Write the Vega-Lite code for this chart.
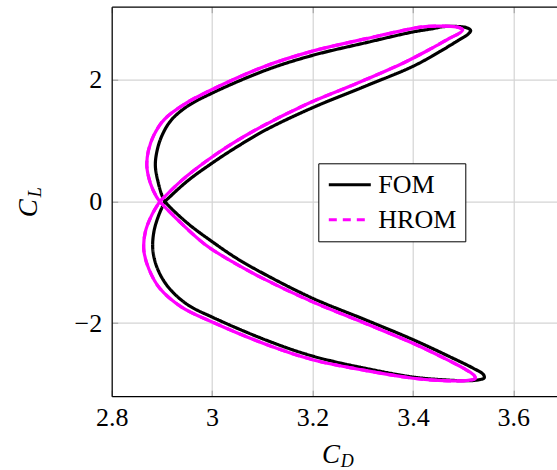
{
  "$schema": "https://vega.github.io/schema/vega-lite/v6.json",
  "width": 445.3,
  "height": 389.5,
  "autosize": {"type": "none"},
  "padding": {"left": 111.7, "top": 6.7, "right": 0, "bottom": 73.8},
  "background": "white",
  "config": {"view": {"stroke": null}, "font": "Liberation Serif"},
  "datasets": {
    "curves": [
      {"series": "FOM", "i": 0, "CD": 2.906, "CL": 0.0},
      {"series": "FOM", "i": 1, "CD": 2.95, "CL": 0.33},
      {"series": "FOM", "i": 2, "CD": 3.0, "CL": 0.63},
      {"series": "FOM", "i": 3, "CD": 3.05, "CL": 0.9},
      {"series": "FOM", "i": 4, "CD": 3.108, "CL": 1.18},
      {"series": "FOM", "i": 5, "CD": 3.2, "CL": 1.54},
      {"series": "FOM", "i": 6, "CD": 3.307, "CL": 1.9},
      {"series": "FOM", "i": 7, "CD": 3.4, "CL": 2.22},
      {"series": "FOM", "i": 8, "CD": 3.453, "CL": 2.46},
      {"series": "FOM", "i": 9, "CD": 3.493, "CL": 2.66},
      {"series": "FOM", "i": 10, "CD": 3.51, "CL": 2.75},
      {"series": "FOM", "i": 11, "CD": 3.515, "CL": 2.81},
      {"series": "FOM", "i": 12, "CD": 3.507, "CL": 2.855},
      {"series": "FOM", "i": 13, "CD": 3.488, "CL": 2.875},
      {"series": "FOM", "i": 14, "CD": 3.46, "CL": 2.872},
      {"series": "FOM", "i": 15, "CD": 3.44, "CL": 2.84},
      {"series": "FOM", "i": 16, "CD": 3.4, "CL": 2.785},
      {"series": "FOM", "i": 17, "CD": 3.307, "CL": 2.61},
      {"series": "FOM", "i": 18, "CD": 3.2, "CL": 2.4},
      {"series": "FOM", "i": 19, "CD": 3.108, "CL": 2.16},
      {"series": "FOM", "i": 20, "CD": 3.0, "CL": 1.78},
      {"series": "FOM", "i": 21, "CD": 2.95, "CL": 1.56},
      {"series": "FOM", "i": 22, "CD": 2.918, "CL": 1.33},
      {"series": "FOM", "i": 23, "CD": 2.9, "CL": 1.08},
      {"series": "FOM", "i": 24, "CD": 2.89, "CL": 0.82},
      {"series": "FOM", "i": 25, "CD": 2.887, "CL": 0.58},
      {"series": "FOM", "i": 26, "CD": 2.893, "CL": 0.3},
      {"series": "FOM", "i": 27, "CD": 2.901, "CL": 0.08},
      {"series": "FOM", "i": 28, "CD": 2.906, "CL": 0.0},
      {"series": "FOM", "i": 29, "CD": 2.95, "CL": -0.35},
      {"series": "FOM", "i": 30, "CD": 3.0, "CL": -0.66},
      {"series": "FOM", "i": 31, "CD": 3.05, "CL": -0.94},
      {"series": "FOM", "i": 32, "CD": 3.108, "CL": -1.21},
      {"series": "FOM", "i": 33, "CD": 3.2, "CL": -1.59},
      {"series": "FOM", "i": 34, "CD": 3.307, "CL": -1.95},
      {"series": "FOM", "i": 35, "CD": 3.4, "CL": -2.27},
      {"series": "FOM", "i": 36, "CD": 3.473, "CL": -2.55},
      {"series": "FOM", "i": 37, "CD": 3.52, "CL": -2.74},
      {"series": "FOM", "i": 38, "CD": 3.54, "CL": -2.84},
      {"series": "FOM", "i": 39, "CD": 3.542, "CL": -2.9},
      {"series": "FOM", "i": 40, "CD": 3.528, "CL": -2.935},
      {"series": "FOM", "i": 41, "CD": 3.5, "CL": -2.945},
      {"series": "FOM", "i": 42, "CD": 3.46, "CL": -2.93},
      {"series": "FOM", "i": 43, "CD": 3.4, "CL": -2.885},
      {"series": "FOM", "i": 44, "CD": 3.307, "CL": -2.745},
      {"series": "FOM", "i": 45, "CD": 3.2, "CL": -2.54},
      {"series": "FOM", "i": 46, "CD": 3.108, "CL": -2.28},
      {"series": "FOM", "i": 47, "CD": 3.0, "CL": -1.9},
      {"series": "FOM", "i": 48, "CD": 2.95, "CL": -1.69},
      {"series": "FOM", "i": 49, "CD": 2.912, "CL": -1.4},
      {"series": "FOM", "i": 50, "CD": 2.891, "CL": -1.1},
      {"series": "FOM", "i": 51, "CD": 2.882, "CL": -0.8},
      {"series": "FOM", "i": 52, "CD": 2.884, "CL": -0.5},
      {"series": "FOM", "i": 53, "CD": 2.894, "CL": -0.22},
      {"series": "FOM", "i": 54, "CD": 2.906, "CL": 0.0},
      {"series": "HROM", "i": 0, "CD": 2.896, "CL": 0.0},
      {"series": "HROM", "i": 1, "CD": 2.94, "CL": 0.35},
      {"series": "HROM", "i": 2, "CD": 2.988, "CL": 0.66},
      {"series": "HROM", "i": 3, "CD": 3.036, "CL": 0.93},
      {"series": "HROM", "i": 4, "CD": 3.094, "CL": 1.21},
      {"series": "HROM", "i": 5, "CD": 3.186, "CL": 1.59},
      {"series": "HROM", "i": 6, "CD": 3.291, "CL": 1.95},
      {"series": "HROM", "i": 7, "CD": 3.382, "CL": 2.28},
      {"series": "HROM", "i": 8, "CD": 3.436, "CL": 2.51},
      {"series": "HROM", "i": 9, "CD": 3.475, "CL": 2.69},
      {"series": "HROM", "i": 10, "CD": 3.494, "CL": 2.77},
      {"series": "HROM", "i": 11, "CD": 3.499, "CL": 2.82},
      {"series": "HROM", "i": 12, "CD": 3.493, "CL": 2.855},
      {"series": "HROM", "i": 13, "CD": 3.475, "CL": 2.878},
      {"series": "HROM", "i": 14, "CD": 3.445, "CL": 2.88},
      {"series": "HROM", "i": 15, "CD": 3.42, "CL": 2.87},
      {"series": "HROM", "i": 16, "CD": 3.4, "CL": 2.845},
      {"series": "HROM", "i": 17, "CD": 3.307, "CL": 2.675},
      {"series": "HROM", "i": 18, "CD": 3.2, "CL": 2.47},
      {"series": "HROM", "i": 19, "CD": 3.108, "CL": 2.23},
      {"series": "HROM", "i": 20, "CD": 3.0, "CL": 1.84},
      {"series": "HROM", "i": 21, "CD": 2.945, "CL": 1.6},
      {"series": "HROM", "i": 22, "CD": 2.905, "CL": 1.35},
      {"series": "HROM", "i": 23, "CD": 2.884, "CL": 1.09},
      {"series": "HROM", "i": 24, "CD": 2.873, "CL": 0.83},
      {"series": "HROM", "i": 25, "CD": 2.87, "CL": 0.58},
      {"series": "HROM", "i": 26, "CD": 2.877, "CL": 0.3},
      {"series": "HROM", "i": 27, "CD": 2.889, "CL": 0.08},
      {"series": "HROM", "i": 28, "CD": 2.896, "CL": 0.0},
      {"series": "HROM", "i": 29, "CD": 2.94, "CL": -0.37},
      {"series": "HROM", "i": 30, "CD": 2.988, "CL": -0.72},
      {"series": "HROM", "i": 31, "CD": 3.04, "CL": -0.99},
      {"series": "HROM", "i": 32, "CD": 3.1, "CL": -1.26},
      {"series": "HROM", "i": 33, "CD": 3.2, "CL": -1.65},
      {"series": "HROM", "i": 34, "CD": 3.307, "CL": -2.01},
      {"series": "HROM", "i": 35, "CD": 3.4, "CL": -2.33},
      {"series": "HROM", "i": 36, "CD": 3.473, "CL": -2.62},
      {"series": "HROM", "i": 37, "CD": 3.507, "CL": -2.77},
      {"series": "HROM", "i": 38, "CD": 3.522, "CL": -2.86},
      {"series": "HROM", "i": 39, "CD": 3.524, "CL": -2.91},
      {"series": "HROM", "i": 40, "CD": 3.51, "CL": -2.94},
      {"series": "HROM", "i": 41, "CD": 3.48, "CL": -2.948},
      {"series": "HROM", "i": 42, "CD": 3.44, "CL": -2.935},
      {"series": "HROM", "i": 43, "CD": 3.4, "CL": -2.905},
      {"series": "HROM", "i": 44, "CD": 3.307, "CL": -2.78},
      {"series": "HROM", "i": 45, "CD": 3.2, "CL": -2.6},
      {"series": "HROM", "i": 46, "CD": 3.108, "CL": -2.35},
      {"series": "HROM", "i": 47, "CD": 3.0, "CL": -1.98},
      {"series": "HROM", "i": 48, "CD": 2.94, "CL": -1.74},
      {"series": "HROM", "i": 49, "CD": 2.896, "CL": -1.43},
      {"series": "HROM", "i": 50, "CD": 2.874, "CL": -1.11},
      {"series": "HROM", "i": 51, "CD": 2.864, "CL": -0.8},
      {"series": "HROM", "i": 52, "CD": 2.867, "CL": -0.5},
      {"series": "HROM", "i": 53, "CD": 2.88, "CL": -0.22},
      {"series": "HROM", "i": 54, "CD": 2.896, "CL": 0.0}
    ]
  },
  "data": {"name": "curves"},
  "layer": [
    {
      "mark": {"type": "line", "interpolate": "catmull-rom", "strokeWidth": 3.2, "clip": true},
      "encoding": {
        "x": {
          "field": "CD", "type": "quantitative",
          "scale": {"domain": [2.8, 3.687], "nice": false, "zero": false},
          "axis": {
            "orient": "bottom", "values": [2.8, 3.0, 3.2, 3.4, 3.6], "format": "~g",
            "domain": true, "domainColor": "black", "domainWidth": 1.2,
            "grid": true, "gridColor": "#d4d4d4", "gridWidth": 1.2,
            "ticks": true, "tickSize": -6, "tickColor": "#9a9a9a",
            "labels": true, "labelFont": "Liberation Serif", "labelFontSize": 26, "labelColor": "black",
            "labelBaseline": "alphabetic", "labelPadding": 35, "labelFlush": false, "labelOverlap": false,
            "title": "C", "titleFont": "Liberation Serif", "titleFontStyle": "italic", "titleFontWeight": "normal",
            "titleFontSize": 27, "titleColor": "black", "titleAlign": "center", "titleBaseline": "alphabetic",
            "titleX": 218.8, "titleY": 65.8, "titleAngle": 0
          }
        },
        "y": {
          "field": "CL", "type": "quantitative",
          "scale": {"domain": [-3.2, 3.2], "nice": false, "zero": false},
          "axis": {
            "orient": "left", "values": [-2, 0, 2], "format": "~g",
            "domain": true, "domainColor": "black", "domainWidth": 1.2,
            "grid": true, "gridColor": "#d4d4d4", "gridWidth": 1.2,
            "ticks": true, "tickSize": -6, "tickColor": "#9a9a9a",
            "labels": true, "labelFont": "Liberation Serif", "labelFontSize": 26, "labelColor": "black",
            "labelBaseline": "middle", "labelPadding": 16, "labelFlush": false, "labelOverlap": false,
            "title": "C", "titleFont": "Liberation Serif", "titleFontStyle": "italic", "titleFontWeight": "normal",
            "titleFontSize": 27, "titleColor": "black", "titleAlign": "center", "titleBaseline": "alphabetic",
            "titleX": -75, "titleY": 201, "titleAngle": 270
          }
        },
        "order": {"field": "i", "type": "quantitative"},
        "color": {
          "field": "series", "type": "nominal",
          "scale": {"domain": ["FOM", "HROM"], "range": ["#000000", "#ff00ff"]},
          "legend": {
            "title": null, "orient": "none", "legendX": 206.6, "legendY": 156.6,
            "strokeColor": "black", "fillColor": "white", "padding": 8, "rowPadding": 8,
            "symbolType": "M-1.75,0H1.75", "symbolSize": 576, "symbolStrokeWidth": 3, "symbolOffset": 10,
            "labelFont": "Liberation Serif", "labelFontSize": 26, "labelColor": "black", "labelOffset": 15
          }
        },
        "strokeDash": {
          "field": "series", "type": "nominal",
          "scale": {"domain": ["FOM", "HROM"], "range": [[1, 0], [8, 6]]},
          "legend": {
            "title": null, "orient": "none", "legendX": 206.6, "legendY": 156.6,
            "strokeColor": "black", "fillColor": "white", "padding": 8, "rowPadding": 8,
            "symbolType": "M-1.75,0H1.75", "symbolSize": 576, "symbolStrokeWidth": 3, "symbolOffset": 10,
            "labelFont": "Liberation Serif", "labelFontSize": 26, "labelColor": "black", "labelOffset": 15
          }
        }
      }
    },
    {
      "transform": [{"filter": "datum.series === 'HROM'"}],
      "mark": {"type": "line", "interpolate": "catmull-rom", "strokeWidth": 3.2, "color": "#ff00ff", "clip": true},
      "encoding": {
        "x": {
          "field": "CD", "type": "quantitative",
          "axis": {
            "orient": "top", "values": [2.8, 3.0, 3.2, 3.4, 3.6],
            "domain": true, "domainColor": "black", "domainWidth": 1.2,
            "grid": false, "ticks": true, "tickSize": -6, "tickColor": "#9a9a9a", "labels": false,
            "title": "D", "titleFont": "Liberation Serif", "titleFontStyle": "italic", "titleFontWeight": "normal",
            "titleFontSize": 18, "titleColor": "black", "titleAlign": "left", "titleBaseline": "alphabetic",
            "titleX": 228.5, "titleY": 460, "titleAngle": 0
          }
        },
        "y": {
          "field": "CL", "type": "quantitative",
          "axis": {
            "orient": "right", "values": [-2, 0, 2],
            "domain": false, "grid": false, "ticks": false, "labels": false,
            "title": "L", "titleFont": "Liberation Serif", "titleFontStyle": "italic", "titleFontWeight": "normal",
            "titleFontSize": 18, "titleColor": "black", "titleAlign": "left", "titleBaseline": "alphabetic",
            "titleX": -517, "titleY": 190, "titleAngle": 270
          }
        },
        "order": {"field": "i", "type": "quantitative"}
      }
    }
  ],
  "resolve": {"axis": {"x": "independent", "y": "independent"}}
}
